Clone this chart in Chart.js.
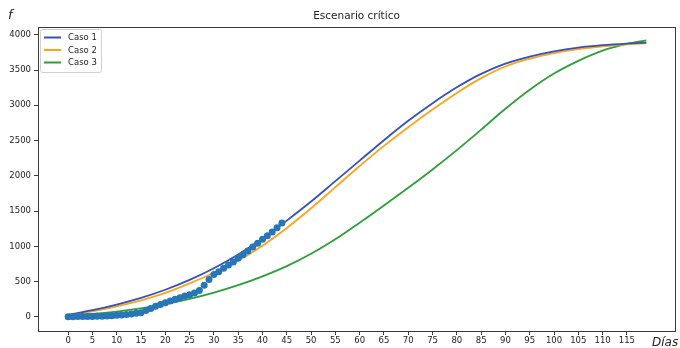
<!DOCTYPE html>
<html>
<head>
<meta charset="utf-8">
<title>Escenario crítico</title>
<script src="https://cdn.jsdelivr.net/npm/chart.js@4/dist/chart.umd.min.js"></script>
<style>
  html, body { margin: 0; padding: 0; background: #ffffff; }
  canvas { display: block; }
</style>
</head>
<body>
<canvas id="chart" width="680" height="348"></canvas>
<script>
// Days at which the model curves are sampled
const curveDays = [0, 5, 10, 15, 20, 25, 30, 35, 40, 45, 50, 55, 60, 65, 70, 75, 80, 85, 90, 95, 100, 105, 110, 115, 119];

// Model curves (cumulative cases)
const caso1 = [30, 95, 175, 270, 385, 525, 690, 885, 1110, 1365, 1635, 1925, 2215, 2505, 2780, 3030, 3255, 3445, 3590, 3690, 3765, 3818, 3852, 3875, 3888];
const caso2 = [25, 80, 150, 235, 340, 475, 625, 800, 1010, 1260, 1540, 1840, 2140, 2425, 2690, 2940, 3175, 3385, 3550, 3660, 3740, 3795, 3835, 3864, 3880];
const caso3 = [20, 42, 75, 120, 180, 255, 345, 450, 575, 720, 895, 1100, 1335, 1580, 1830, 2090, 2365, 2655, 2950, 3220, 3450, 3630, 3775, 3870, 3922];

// Observed cumulative cases, days 0..44
const obsDays = [0, 1, 2, 3, 4, 5, 6, 7, 8, 9, 10, 11, 12, 13, 14, 15, 16, 17, 18, 19, 20, 21, 22, 23, 24, 25, 26, 27, 28, 29, 30, 31, 32, 33, 34, 35, 36, 37, 38, 39, 40, 41, 42, 43, 44];
const observed = [2, 3, 4, 5, 5, 6, 8, 10, 12, 16, 22, 28, 34, 42, 50, 60, 90, 118, 150, 175, 200, 225, 250, 272, 295, 315, 340, 375, 450, 530, 600, 640, 690, 735, 780, 830, 880, 935, 990, 1045, 1100, 1150, 1205, 1265, 1330];

// Axis ticks
const xTicks = [0, 5, 10, 15, 20, 25, 30, 35, 40, 45, 50, 55, 60, 65, 70, 75, 80, 85, 90, 95, 100, 105, 110, 115];
const yTicks = [0, 500, 1000, 1500, 2000, 2500, 3000, 3500, 4000];

const seriesLabels = ['Caso 1', 'Caso 2', 'Caso 3'];
const seriesColors = ['#3352b5', '#ffa31a', '#2f9e3a'];
const chartTitle = 'Escenario crítico';
const yAxisName = 'f';
const xAxisName = 'Días';

const FONT = 'DejaVu Sans';
const AXIS_COLOR = '#3a3a3a';
const TEXT_COLOR = '#222222';

const toPoints = (xs, ys) => xs.map((x, i) => ({ x: x, y: ys[i] }));

// Frame, title, axis names and in-plot legend
const decorations = {
  id: 'decorations',
  afterDraw(chart) {
    const { ctx, chartArea: a } = chart;
    ctx.save();

    // full box around the plot area
    ctx.strokeStyle = AXIS_COLOR;
    ctx.lineWidth = 1;
    ctx.strokeRect(Math.round(a.left) + 0.5, Math.round(a.top) + 0.5,
                   Math.round(a.right - a.left), Math.round(a.bottom - a.top));

    // title
    ctx.fillStyle = TEXT_COLOR;
    ctx.font = '10.5px "' + FONT + '"';
    ctx.textAlign = 'center';
    ctx.textBaseline = 'middle';
    ctx.fillText(chartTitle, (a.left + a.right) / 2, 16);

    // axis names
    ctx.font = 'italic 13px "' + FONT + '"';
    ctx.textAlign = 'left';
    ctx.fillText(yAxisName, 8, 16);
    ctx.font = 'italic 12px "' + FONT + '"';
    ctx.fillText(xAxisName, 652, 343);

    // legend
    const lx = a.left + 2, ly = a.top + 2, lw = 61, lh = 43;
    ctx.fillStyle = 'rgba(255,255,255,0.85)';
    ctx.strokeStyle = '#d0d0d0';
    ctx.lineWidth = 1;
    ctx.beginPath();
    if (ctx.roundRect) ctx.roundRect(lx + 0.5, ly + 0.5, lw, lh, 2);
    else ctx.rect(lx + 0.5, ly + 0.5, lw, lh);
    ctx.fill();
    ctx.stroke();

    ctx.font = '8.5px "' + FONT + '"';
    ctx.textBaseline = 'middle';
    seriesLabels.forEach((label, i) => {
      const y = ly + 8.5 + i * 12.5;
      ctx.strokeStyle = seriesColors[i];
      ctx.lineWidth = 2;
      ctx.beginPath();
      ctx.moveTo(lx + 4, y);
      ctx.lineTo(lx + 21, y);
      ctx.stroke();
      ctx.fillStyle = TEXT_COLOR;
      ctx.fillText(label, lx + 28, y + 0.5);
    });

    ctx.restore();
  }
};

const tickFont = { family: FONT, size: 8.5 };
const plainNumber = v => String(v);

new Chart(document.getElementById('chart'), {
  type: 'line',
  data: {
    datasets: [
      {
        type: 'scatter',
        label: 'Datos',
        data: toPoints(obsDays, observed),
        backgroundColor: '#2776b8',
        borderColor: '#2776b8',
        borderWidth: 0,
        pointRadius: 3.5,
        pointHoverRadius: 3.5
      },
      ...seriesLabels.map((label, i) => ({
        label: label,
        data: toPoints(curveDays, [caso1, caso2, caso3][i]),
        borderColor: seriesColors[i],
        backgroundColor: seriesColors[i],
        borderWidth: 1.8,
        pointRadius: 0,
        fill: false,
        cubicInterpolationMode: 'monotone'
      }))
    ]
  },
  options: {
    responsive: false,
    animation: false,
    devicePixelRatio: 1,
    layout: { padding: { left: 0, right: 5, top: 27, bottom: 0 } },
    plugins: {
      legend: { display: false },
      title: { display: false },
      tooltip: { enabled: false }
    },
    scales: {
      x: {
        type: 'linear',
        min: -6.2,
        max: 124.9,
        afterBuildTicks: s => { s.ticks = xTicks.map(v => ({ value: v })); },
        afterFit: s => { s.height = 17; },
        grid: { display: true, drawOnChartArea: false, drawTicks: true, tickLength: 4, color: AXIS_COLOR },
        border: { display: true, color: AXIS_COLOR },
        ticks: { font: tickFont, color: TEXT_COLOR, padding: 1, maxRotation: 0, autoSkip: false, callback: plainNumber }
      },
      y: {
        type: 'linear',
        min: -200,
        max: 4110,
        afterBuildTicks: s => { s.ticks = yTicks.map(v => ({ value: v })); },
        afterFit: s => { s.width = 38; },
        grid: { display: true, drawOnChartArea: false, drawTicks: true, tickLength: 4, color: AXIS_COLOR },
        border: { display: true, color: AXIS_COLOR },
        ticks: { font: tickFont, color: TEXT_COLOR, padding: 3, autoSkip: false, callback: plainNumber }
      }
    }
  },
  plugins: [decorations]
});
</script>
</body>
</html>
